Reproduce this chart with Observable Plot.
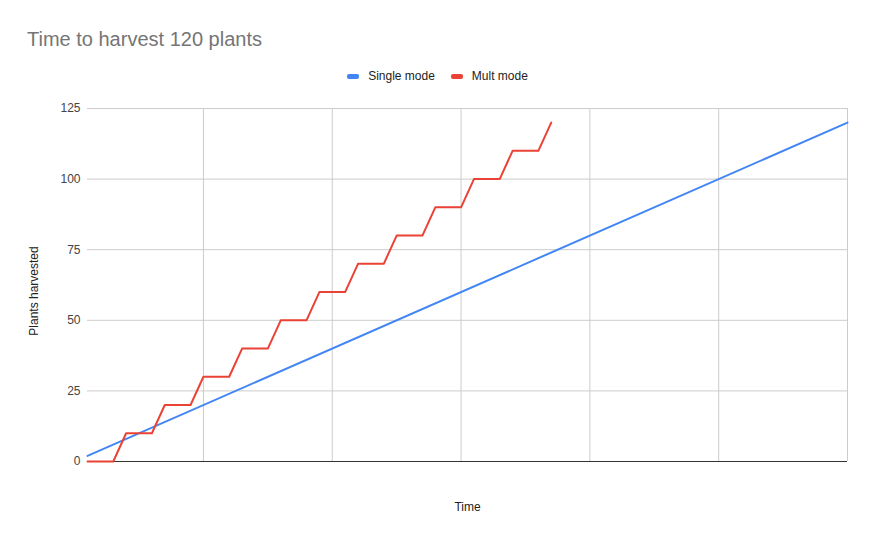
<!DOCTYPE html>
<html>
<head>
<meta charset="utf-8">
<script src="https://cdn.jsdelivr.net/npm/d3@7"></script>
<script src="https://cdn.jsdelivr.net/npm/@observablehq/plot@0.6"></script>
<style>
  body { margin: 0; background: #fff; font-family: "Liberation Sans", Arial, sans-serif; }
  #wrap { width: 875px; height: 541px; position: relative; overflow: hidden; }
  #title { position: absolute; left: 27px; top: 28px; font-size: 20px; color: #757575; }
  #legend { position: absolute; left: 0; width: 875px; top: 69px; display: flex; justify-content: center; font-size: 12px; color: #222; gap: 16px; padding-left: 0px; box-sizing: border-box; }
  .item { display: flex; align-items: center; }
  .sw { width: 12px; height: 5px; border-radius: 2px; margin-right: 9px; }
  #chart { position: absolute; left: 0; top: 95px; }
</style>
</head>
<body>
<div id="wrap">
  <div id="title">Time to harvest 120 plants</div>
  <div id="legend"></div>
  <div id="chart"></div>
</div>
<script>
const seriesNames = ["Single mode", "Mult mode"];
const seriesColors = ["#4285F4", "#EA4335"];
const singleX = [1, 60];
const singleY = [2, 120];
const multX = [1, 3, 4, 6, 7, 9, 10, 12, 13, 15, 16, 18, 19, 21, 22, 24, 25, 27, 28, 30, 31, 33, 34, 36, 37];
const multY = [0, 0, 10, 10, 20, 20, 30, 30, 40, 40, 50, 50, 60, 60, 70, 70, 80, 80, 90, 90, 100, 100, 110, 110, 120];
const yTicks = [0, 25, 50, 75, 100, 125];
const xGrid = [10, 20, 30, 40, 50, 60];

const single = singleX.map((x, i) => ({x, y: singleY[i]}));
const mult = multX.map((x, i) => ({x, y: multY[i]}));

const legend = document.getElementById("legend");
seriesNames.forEach((n, i) => {
  const it = document.createElement("div");
  it.className = "item";
  it.innerHTML = `<span class="sw" style="background:${seriesColors[i]}"></span><span>${n}</span>`;
  legend.appendChild(it);
});

const chart = Plot.plot({
  width: 875,
  height: 446,
  marginTop: 13,
  marginBottom: 80,
  marginLeft: 87,
  marginRight: 28,
  style: { fontFamily: "'Liberation Sans', Arial, sans-serif", fontSize: "12px", color: "#444", background: "#fff" },
  x: { domain: [1, 60], axis: null },
  y: { domain: [0, 125], axis: null },
  marks: [
    Plot.ruleY(yTicks.filter(d => d > 0), { stroke: "#cccccc", strokeWidth: 1 }),
    Plot.ruleX(xGrid, { stroke: "#cccccc", strokeWidth: 1 }),
    Plot.ruleY([0], { stroke: "#333333", strokeWidth: 1 }),
    Plot.axisY({ ticks: yTicks, tickSize: 0, tickPadding: 7, label: null, fill: "#444" }),
    Plot.line(single, { x: "x", y: "y", stroke: seriesColors[0], strokeWidth: 2 }),
    Plot.line(mult, { x: "x", y: "y", stroke: seriesColors[1], strokeWidth: 2 }),
    Plot.text(["Time"], { frameAnchor: "bottom", dy: 49, fill: "#222", fontSize: 12 }),
    Plot.text(["Plants harvested"], { frameAnchor: "left", textAnchor: "middle", dx: -53, dy: 6, rotate: -90, fill: "#222", fontSize: 12 })
  ]
});
document.getElementById("chart").appendChild(chart);
</script>
</body>
</html>
